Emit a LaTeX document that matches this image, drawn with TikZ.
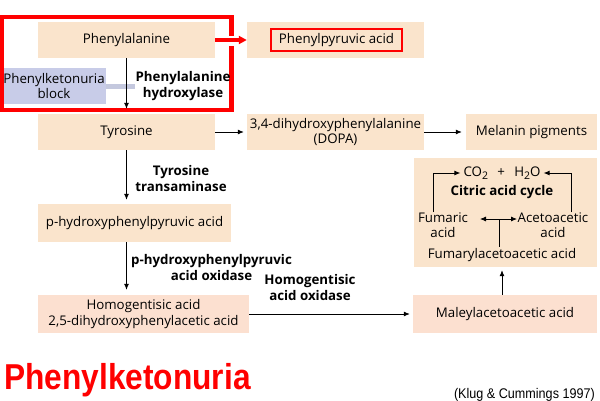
\documentclass[tikz,border=0pt]{standalone}
\usepackage{fontspec}
\setmainfont{Open Sans}
\newfontfamily\arialfont{Liberation Sans}
\usetikzlibrary{arrows.meta}
\definecolor{tanfill}{RGB}{250,228,204}
\definecolor{pinkfill}{RGB}{252,224,208}
\definecolor{bluefill}{RGB}{200,204,232}
\definecolor{barfill}{RGB}{196,200,222}
\definecolor{pkured}{RGB}{255,0,0}
\newcommand{\subtwo}{\raisebox{-2.5pt}{\fontsize{10.5}{10.5}\selectfont 2}}
\tikzset{
  box/.style={fill=tanfill, inner sep=0pt, align=center, font=\fontsize{13.3}{15.5}\selectfont},
  lbl/.style={inner sep=0pt, align=center, font=\fontsize{13.3}{16}\selectfont\bfseries},
  txt/.style={inner sep=0pt, align=center, font=\fontsize{13.3}{15.5}\selectfont},
  arr/.style={line width=0.8pt, -{Latex[length=6pt,width=5pt]}},
  arrb/.style={line width=0.8pt, {Latex[length=6pt,width=5pt]}-{Latex[length=6pt,width=5pt]}},
  ln/.style={line width=0.8pt}
}
\begin{document}
\begin{tikzpicture}[x=1pt,y=-1pt]
\useasboundingbox (0,0) rectangle (600,400);
% boxes
\node[box, minimum width=177pt, minimum height=36pt] (phe) at (126.5,40) {Phenylalanine};
\node[box, minimum width=177pt, minimum height=36pt] (ppa) at (335.5,40) {};
\node[txt, draw=pkured, line width=2.5pt, minimum width=131pt, minimum height=22pt] (ppat) at (336.5,40) {Phenylpyruvic acid};
\node[box, minimum width=177pt, minimum height=36pt] (tyr) at (126.5,132) {Tyrosine};
\node[box, minimum width=177pt, minimum height=36pt] (dopa) at (335.5,132) {3,4-dihydroxyphenylalanine\\(DOPA)};
\node[box, minimum width=131pt, minimum height=36pt] (mel) at (531.5,132) {Melanin pigments};
\node[box, minimum width=193pt, minimum height=38pt] (php) at (134.5,223) {p-hydroxyphenylpyruvic acid};
\node[box, fill=pinkfill, minimum width=211pt, minimum height=38pt] (hga) at (143.5,314) {Homogentisic acid\\2,5-dihydroxyphenylacetic acid};
\node[box, fill=pinkfill, minimum width=184pt, minimum height=38pt] (maa) at (505,314) {Maleylacetoacetic acid};
\node[box, minimum width=183pt, minimum height=109pt] (big) at (505.5,212.5) {};
% PKU block
\node[box, fill=bluefill, minimum width=104pt, minimum height=36pt] (pku) at (54,86) {Phenylketonuria\\block};
\fill[barfill] (pku.east |- 0,84) rectangle (135,88.5);
% red frame
\draw[pkured, line width=4.5pt] (2,17) rectangle (231.5,110);
\fill[white] (228,35.5) rectangle (236,45.5);
\draw[pkured, line width=4pt, -{Triangle[length=8pt,width=8pt]}] (phe.east) -- (ppa.west);
% enzyme labels
\node[lbl] (pah) at (183,86) {Phenylalanine\\hydroxylase};
\node[lbl] (ta) at (181,179) {Tyrosine\\transaminase};
\node[lbl] (hppo) at (211.5,267.5) {p-hydroxyphenylpyruvic\\acid oxidase};
\node[lbl] (hgo) at (310,288) {Homogentisic\\acid oxidase};
% main arrows
\draw[arr, shorten >=5pt] (phe.south) -- (tyr.north);
\draw[arr, shorten >=3pt] (tyr.east) -- (dopa.west);
\draw[arr, shorten >=4pt] (dopa.east) -- (mel.west);
\draw[arr, shorten >=4pt] (tyr.south) -- (tyr.south |- php.north);
\draw[arr, shorten >=5pt] (tyr.south |- php.south) -- (tyr.south |- hga.north);
\draw[arr, shorten >=3pt] (hga.east) -- (maa.west);
\draw[arr, shorten >=3pt] ([xshift=-3pt]maa.north) -- ([xshift=-3pt]maa.north |- big.south);
% inside big box
\node[txt] (co2) at (502,173) {CO\subtwo{}\hspace{0.7em}+\hspace{0.7em}H\subtwo{}O};
\node[lbl] (cac) at (502,192) {Citric acid cycle};
\node[txt] (fum) at (443,225) {Fumaric\\acid};
\node[txt] (aceto) at (553,225) {Acetoacetic\\acid};
\node[txt] (faa) at (502,255) {Fumarylacetoacetic acid};
\draw[arr, shorten >=3pt] ([xshift=-10pt]fum.north) |- (co2.west);
\draw[arr, shorten >=3pt] ([xshift=18pt]aceto.north) |- (co2.east);
\coordinate (dl) at (480,219);
\coordinate (dr) at (517,219);
\coordinate (dm) at (499,219);
\draw[arrb] (dl) -- (dr);
\draw[ln] (dm) -- ([yshift=1pt]dm |- faa.north);
% title and source
\node[anchor=base west, inner sep=0pt, text=pkured, font=\arialfont\bfseries\fontsize{36}{40}\selectfont] (title) at (4,389) {\scalebox{0.88}[1]{Phenylketonuria}};
\node[anchor=base east, inner sep=0pt, font=\arialfont\fontsize{14}{16}\selectfont] (src) at (595,398) {\scalebox{0.9}[1]{(Klug \& Cummings 1997)}};
\end{tikzpicture}
\end{document}
